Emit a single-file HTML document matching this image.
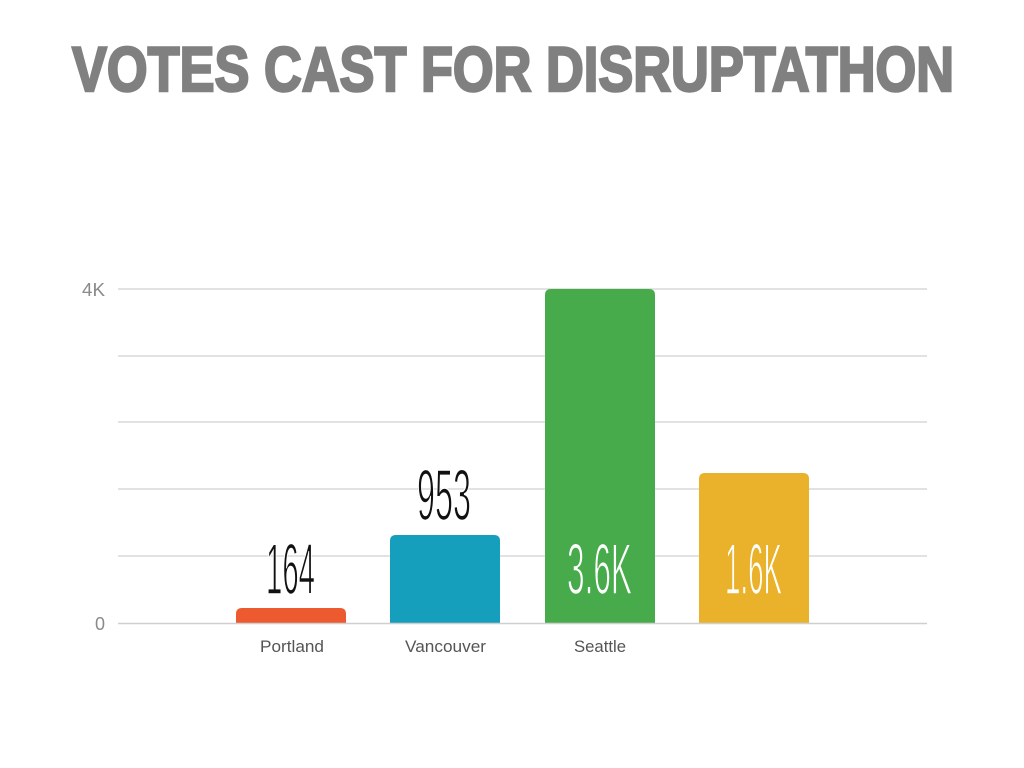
<!DOCTYPE html>
<html><head><meta charset="utf-8"><style>
html,body{margin:0;padding:0;background:#fff;width:1024px;height:768px;overflow:hidden}
svg{display:block}
</style></head><body>
<svg width="1024" height="768" viewBox="0 0 1024 768" xmlns="http://www.w3.org/2000/svg">
<text x="72" y="91" font-family="Liberation Sans, sans-serif" font-weight="bold" font-size="63" fill="#808080" stroke="#808080" stroke-width="2.5" textLength="882" lengthAdjust="spacingAndGlyphs">VOTES CAST FOR DISRUPTATHON</text>
<g stroke="#d9d9d9" stroke-width="1.5">
<line x1="118" y1="289" x2="927" y2="289"/>
<line x1="118" y1="356" x2="927" y2="356"/>
<line x1="118" y1="422" x2="927" y2="422"/>
<line x1="118" y1="489" x2="927" y2="489"/>
<line x1="118" y1="556" x2="927" y2="556"/>
</g>
<g font-family="Liberation Sans, sans-serif" fill="#8a8a8a" font-size="18">
<text x="82" y="296" textLength="23" lengthAdjust="spacingAndGlyphs">4K</text>
<text x="95" y="630">0</text>
</g>
<path d="M236,623 V614 Q236,608 242,608 H340 Q346,608 346,614 V623 Z" fill="#ee5a30"/>
<path d="M390,623 V541 Q390,535 396,535 H494 Q500,535 500,541 V623 Z" fill="#169fbd"/>
<path d="M545,623 V295 Q545,289 551,289 H649 Q655,289 655,295 V623 Z" fill="#48ab4b"/>
<path d="M699,623 V479 Q699,473 705,473 H803 Q809,473 809,479 V623 Z" fill="#eab22a"/>
<line x1="118" y1="623.5" x2="927" y2="623.5" stroke="#cfcfcf" stroke-width="1.5"/>
<g font-family="Liberation Sans, sans-serif" font-size="72" stroke-width="1.6">
<text x="266" y="594" textLength="49" lengthAdjust="spacingAndGlyphs" fill="#111" stroke="#fff">164</text>
<text x="417" y="520" textLength="54" lengthAdjust="spacingAndGlyphs" fill="#111" stroke="#fff">953</text>
<text x="567" y="594" textLength="65" lengthAdjust="spacingAndGlyphs" fill="#fff" stroke="#48ab4b">3.6K</text>
<text x="725" y="594" textLength="57" lengthAdjust="spacingAndGlyphs" fill="#fff" stroke="#eab22a">1.6K</text>
</g>
<g font-family="Liberation Sans, sans-serif" font-size="17" fill="#555">
<text x="260" y="652" textLength="64" lengthAdjust="spacingAndGlyphs">Portland</text>
<text x="405" y="652" textLength="81" lengthAdjust="spacingAndGlyphs">Vancouver</text>
<text x="574" y="652" textLength="52" lengthAdjust="spacingAndGlyphs">Seattle</text>
</g>
</svg>
</body></html>
